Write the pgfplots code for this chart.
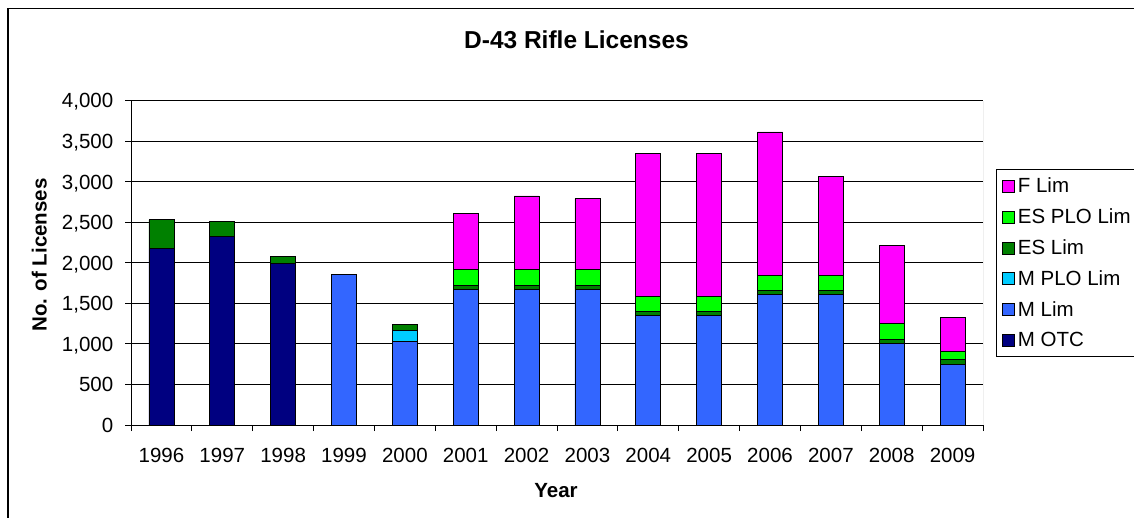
\documentclass[border=0pt]{standalone}
\usepackage{fontspec}
\setmainfont{Liberation Sans}
\usepackage{pgfplots}
\pgfplotsset{compat=1.18}
\definecolor{mOTC}{RGB}{0,0,128}
\definecolor{mLim}{RGB}{51,102,255}
\definecolor{mPLO}{RGB}{0,204,255}
\definecolor{esLim}{RGB}{0,128,0}
\definecolor{esPLO}{RGB}{0,255,0}
\definecolor{fLim}{RGB}{255,0,255}
\newcommand{\tfont}{\fontsize{20.5}{24}\selectfont}
\begin{document}
\begin{tikzpicture}[x=1pt,y=1pt]
\useasboundingbox (0,0) rectangle (1134,517);
\draw[line width=1.3pt] (1200,508.5) -- (8,508.5) -- (8,-30);
\node[font=\bfseries\fontsize{24.5}{29}\selectfont, anchor=base] at (576.5,468) {D-43 Rifle Licenses};
\node[font=\bfseries\tfont, anchor=base, rotate=90] at (46.7,262) {No. of Licenses};
\node[font=\bfseries\tfont, anchor=base] at (556,19.7) {Year};
\begin{axis}[
  at={(131pt,92pt)}, anchor=south west,
  scale only axis, width=852pt, height=324.3pt,
  ybar stacked, bar width=25pt,
  xmin=-0.5, xmax=13.5, ymin=0, ymax=4000,
  ytick={0,500,...,4000},
  xtick={0,...,13},
  xticklabels={1996,1997,1998,1999,2000,2001,2002,2003,2004,2005,2006,2007,2008,2009},
  minor xtick={-0.5,0.5,...,13.5},
  major x tick style={draw=none},
  minor x tick style={black, line width=1pt},
  major y tick style={black, line width=1pt},
  tick align=outside, major tick length=6pt, minor tick length=6pt,
  axis x line*=bottom, axis y line*=left,
  axis line style={black, line width=1pt, -},
  ymajorgrids, grid style={black, line width=1pt},
  /pgf/number format/assume math mode=true,
  /pgf/number format/1000 sep={,},
  tick label style={font=\tfont},
  xticklabel style={anchor=center, inner sep=0pt, yshift=-24.7pt},
  yticklabel style={anchor=base east, inner sep=0pt, xshift=-11.5pt, yshift=-7.3pt},
  every axis plot/.append style={draw=black, line width=0.8pt},
  reverse legend,
  legend cell align=left,
  legend image code/.code={\draw[#1,draw=black,line width=0.8pt] (0pt,-6pt) rectangle (12pt,6pt);},
  legend style={at={(1.0153,0.788)}, anchor=north west, draw=black, line width=1pt,
    font=\tfont, row sep=10.8pt, inner xsep=5pt, inner ysep=6.5pt,
    nodes={inner ysep=1.5pt, inner xsep=3.5pt, text height=15pt, text depth=2pt}},
]
\addplot[fill=mOTC] coordinates {(0,2180) (1,2330) (2,1990) (3,0) (4,0) (5,0) (6,0) (7,0) (8,0) (9,0) (10,0) (11,0) (12,0) (13,0)};
\addlegendentry{M OTC}
\addplot[fill=mLim] coordinates {(0,0) (1,0) (2,0) (3,1860) (4,1035) (5,1670) (6,1670) (7,1670) (8,1350) (9,1350) (10,1605) (11,1605) (12,1005) (13,750)};
\addlegendentry{M Lim}
\addplot[fill=mPLO] coordinates {(0,0) (1,0) (2,0) (3,0) (4,130) (5,0) (6,0) (7,0) (8,0) (9,0) (10,0) (11,0) (12,0) (13,0)};
\addlegendentry{M PLO Lim}
\addplot[fill=esLim] coordinates {(0,350) (1,180) (2,90) (3,0) (4,80) (5,50) (6,50) (7,50) (8,55) (9,55) (10,55) (11,55) (12,55) (13,60)};
\addlegendentry{ES Lim}
\addplot[fill=esPLO] coordinates {(0,0) (1,0) (2,0) (3,0) (4,0) (5,200) (6,200) (7,200) (8,185) (9,185) (10,185) (11,185) (12,190) (13,100)};
\addlegendentry{ES PLO Lim}
\addplot[fill=fLim] coordinates {(0,0) (1,0) (2,0) (3,0) (4,0) (5,685) (6,905) (7,870) (8,1760) (9,1755) (10,1770) (11,1225) (12,960) (13,415)};
\addlegendentry{F Lim}
\draw[gray, line width=1pt] (rel axis cs:1,0) -- (rel axis cs:1,1);
\end{axis}
\end{tikzpicture}
\end{document}
